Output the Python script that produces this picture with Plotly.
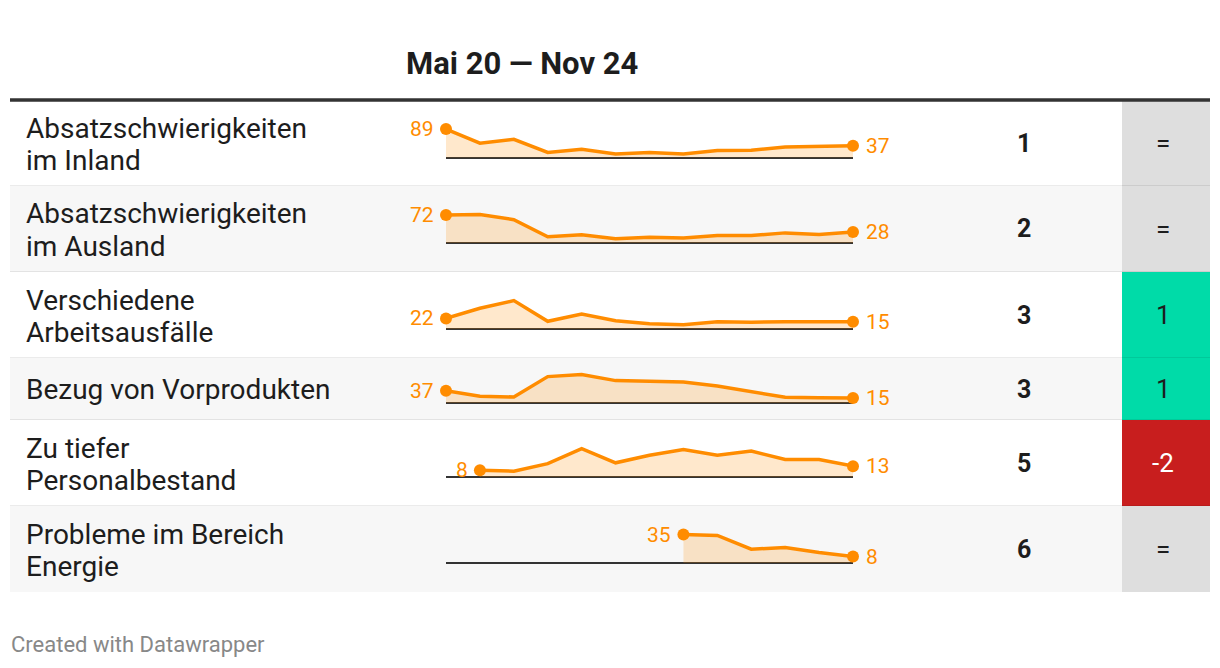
import plotly.graph_objects as go

# the page body has an 8px margin, so the figure is drawn 8px in and smaller
OFF = 8
W, H = 1220 - 2 * OFF, 668 - 2 * OFF

PERIOD = "Mai 20 — Nov 24"
LABELS = [
    "Absatzschwierigkeiten<br>im Inland",
    "Absatzschwierigkeiten<br>im Ausland",
    "Verschiedene<br>Arbeitsausfälle",
    "Bezug von Vorprodukten",
    "Zu tiefer<br>Personalbestand",
    "Probleme im Bereich<br>Energie",
]
RANKS = [1, 2, 3, 3, 5, 6]
CHANGES = ["=", "=", "1", "1", "-2", "="]

# survey waves Mai 20 .. Nov 24 (13 points), None = not asked yet
INLAND = [89, 45, 57, 16, 26, 11, 16, 11, 22, 23, 33, 35, 37]
AUSLAND = [72, 73, 60, 16, 21, 11, 15, 13, 19, 19, 26, 22, 28]
ARBEIT = [22, 43, 59, 16, 31, 17, 11, 9, 15, 14, 15, 15, 15]
VORPROD = [37, 20, 18, 79, 85, 67, 65, 63, 51, 33, 17, 16, 15]
PERSONAL = [None, 8, 7, 16, 34, 17, 26, 33, 26, 31, 21, 21, 13]
ENERGIE = [None, None, None, None, None, None, None, 35, 34, 17, 19, 13, 8]
SERIES = [INLAND, AUSLAND, ARBEIT, VORPROD, PERSONAL, ENERGIE]

ORANGE = "#ff8c00"
FILL = "rgba(255,140,0,0.2)"
TEXT = "#1d1d1d"
FONT = "Roboto"

# row geometry in page pixels
ROW_TOP = [101, 186, 272, 358, 420, 506]
ROW_BOT = [186, 272, 358, 420, 506, 592]
X0, X1 = 10, 1210
SPARK_X0, SPARK_X1 = 446, 853
CELL_X0 = 1122


def px(x):
    return (x - OFF) / W


def py(y):
    return 1 - (y - OFF) / H


def change_color(c):
    if c == "=":
        return "#dedede"
    return "#00dba8" if int(c) > 0 else "#c81e1e"


fig = go.Figure()
shapes, annotations = [], []
axes = {}

for i, vals in enumerate(SERIES):
    top, bot = ROW_TOP[i], ROW_BOT[i]
    mid = (top + bot) / 2
    shapes.append(dict(type="rect", xref="paper", yref="paper", layer="below",
                       x0=px(X0), x1=px(X1), y0=py(bot), y1=py(top),
                       fillcolor="#ffffff" if i % 2 == 0 else "#f7f7f7",
                       line=dict(width=0)))
    shapes.append(dict(type="rect", xref="paper", yref="paper", layer="below",
                       x0=px(CELL_X0), x1=px(X1), y0=py(bot), y1=py(top),
                       fillcolor=change_color(CHANGES[i]), line=dict(width=0)))
    if i < len(SERIES) - 1:
        shapes.append(dict(type="line", xref="paper", yref="paper", layer="below",
                           x0=px(X0), x1=px(X1), y0=py(bot), y1=py(bot),
                           line=dict(color="rgba(0,0,0,0.08)", width=2)))

    # label lines placed one by one for a tighter line height
    lines = LABELS[i].split("<br>")
    for j, line in enumerate(lines):
        ly = mid + 1 + (j - (len(lines) - 1) / 2) * 32
        annotations.append(dict(xref="paper", yref="paper", x=px(24), y=py(ly),
                                xanchor="left", yanchor="middle", align="left",
                                text=line, showarrow=False,
                                font=dict(family=FONT, size=28, color=TEXT)))
    annotations.append(dict(xref="paper", yref="paper", x=px(1024), y=py(mid),
                            xanchor="center", yanchor="middle",
                            text="<b>%d</b>" % RANKS[i], showarrow=False,
                            font=dict(family=FONT, size=25, color=TEXT)))
    annotations.append(dict(xref="paper", yref="paper", x=px(1163), y=py(mid),
                            xanchor="center", yanchor="middle",
                            text=CHANGES[i], showarrow=False,
                            font=dict(family=FONT, size=26,
                                      color="#ffffff" if CHANGES[i].startswith("-") else TEXT)))

    # sparkline: baseline 14px under row centre, max value 28.4px above it
    base = mid + 14
    vmax = max(v for v in vals if v is not None)
    k = vmax / 28.4
    pad = 6
    n = "" if i == 0 else str(i + 1)
    axes["xaxis" + n] = dict(domain=[px(SPARK_X0), px(SPARK_X1)], range=[0, len(vals) - 1],
                             visible=False, fixedrange=True, anchor="y" + n)
    axes["yaxis" + n] = dict(domain=[py(base + pad), py(base - 28.4 - pad)],
                             range=[-pad * k, vmax + pad * k], anchor="x" + n,
                             showgrid=False, showticklabels=False, showline=False,
                             zeroline=True, zerolinecolor="#333333", zerolinewidth=2,
                             fixedrange=True)

    xs = [j for j, v in enumerate(vals) if v is not None]
    ys = [v for v in vals if v is not None]
    fig.add_trace(go.Scatter(x=xs, y=ys, mode="lines", fill="tozeroy", fillcolor=FILL,
                             line=dict(color=ORANGE, width=3.5), hoverinfo="skip",
                             xaxis="x" + n, yaxis="y" + n, showlegend=False))
    fig.add_trace(go.Scatter(x=[xs[0], xs[-1]], y=[ys[0], ys[-1]], mode="markers",
                             marker=dict(color=ORANGE, size=12), cliponaxis=False,
                             hoverinfo="skip", xaxis="x" + n, yaxis="y" + n,
                             showlegend=False))
    for xv, yv, shift in ((xs[0], ys[0], -10), (xs[-1], ys[-1], 11)):
        annotations.append(dict(xref="x" + n, yref="y" + n, x=xv, y=yv,
                                xanchor="right" if shift < 0 else "left",
                                yanchor="middle", xshift=shift,
                                text=str(yv), showarrow=False,
                                font=dict(family=FONT, size=21, color=ORANGE)))

# header rule
shapes.append(dict(type="line", xref="paper", yref="paper",
                   x0=px(X0), x1=px(X1), y0=py(100), y1=py(100),
                   line=dict(color="#333333", width=3.5)))

annotations.append(dict(xref="paper", yref="paper", x=px(522), y=py(64),
                        xanchor="center", yanchor="middle", text="<b>%s</b>" % PERIOD,
                        showarrow=False, font=dict(family=FONT, size=31, color=TEXT)))
annotations.append(dict(xref="paper", yref="paper", x=px(9), y=py(644),
                        xanchor="left", yanchor="middle", text="Created with Datawrapper",
                        showarrow=False, font=dict(family=FONT, size=22, color="#888888")))

fig.update_layout(
    width=W, height=H, autosize=False,
    margin=dict(l=0, r=0, t=0, b=0),
    paper_bgcolor="#ffffff", plot_bgcolor="rgba(0,0,0,0)",
    shapes=shapes, annotations=annotations,
    **axes,
)

fig.write_html("out.html", config={"displayModeBar": False})
